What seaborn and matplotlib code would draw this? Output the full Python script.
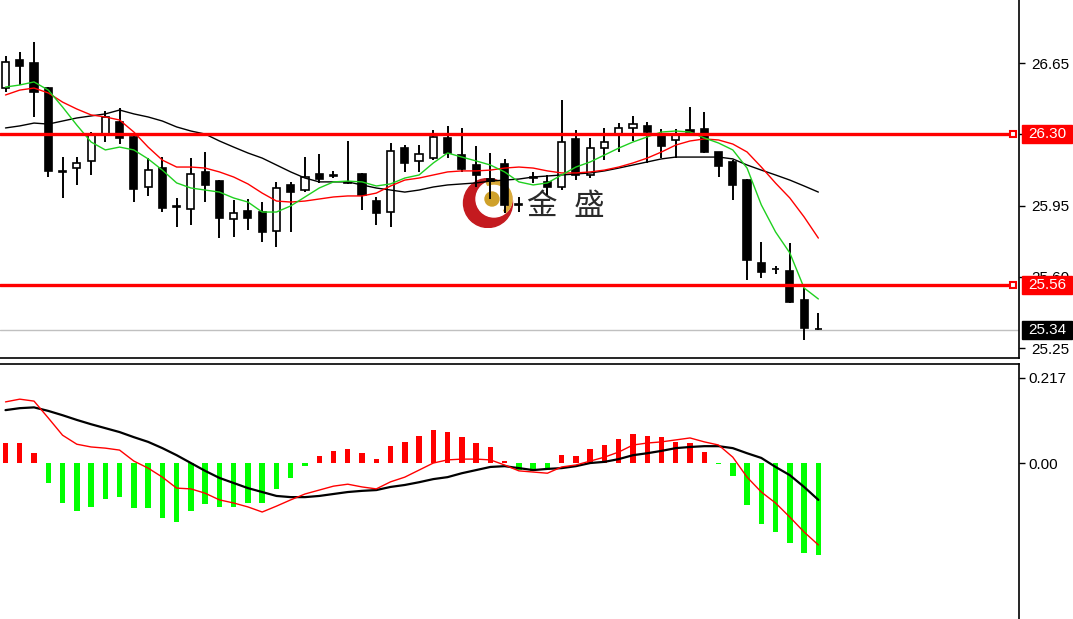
import numpy as np
import pandas as pd
import matplotlib
matplotlib.use("Agg")
import matplotlib.pyplot as plt
import matplotlib.transforms as mtransforms
from matplotlib.patches import Rectangle, Circle, Wedge
import seaborn as sns

# ---------------- data ----------------
open_ = [26.527, 26.665, 26.650, 26.527, 26.120, 26.134, 26.169, 26.300, 26.360, 26.286,
         26.040, 26.134, 25.947, 25.933, 26.115, 26.070, 25.884, 25.923, 25.918, 25.825,
         26.050, 26.026, 26.105, 26.100, 26.067, 26.105, 25.972, 25.918, 26.232, 26.169,
         26.183, 26.282, 26.198, 26.150, 26.080, 26.154, 25.955, 26.090, 26.066, 26.040,
         26.277, 26.100, 26.232, 26.301, 26.330, 26.340, 26.291, 26.272, 26.320, 26.326,
         26.213, 26.164, 26.075, 25.668, 25.640, 25.628, 25.486, 25.345]
high = [26.684, 26.704, 26.753, 26.530, 26.190, 26.190, 26.310, 26.414, 26.430, 26.296,
        26.183, 26.190, 25.987, 26.183, 26.213, 26.075, 25.977, 25.982, 25.967, 26.066,
        26.066, 26.190, 26.203, 26.120, 26.267, 26.110, 25.990, 26.257, 26.247, 26.247,
        26.320, 26.340, 26.330, 26.242, 26.210, 26.180, 25.990, 26.115, 26.100, 26.468,
        26.320, 26.282, 26.330, 26.355, 26.390, 26.360, 26.326, 26.326, 26.434, 26.410,
        26.215, 26.174, 26.080, 25.770, 25.653, 25.766, 25.545, 25.422]
low = [26.510, 26.540, 26.385, 26.090, 25.987, 26.050, 26.100, 26.262, 26.252, 25.967,
       25.997, 25.918, 25.845, 25.854, 25.967, 25.790, 25.795, 25.830, 25.770, 25.746,
       25.820, 26.016, 26.060, 26.085, 26.055, 25.928, 25.854, 25.845, 26.115, 26.115,
       26.174, 26.183, 26.115, 26.040, 25.980, 25.913, 25.920, 26.060, 26.000, 26.026,
       26.075, 26.085, 26.174, 26.213, 26.267, 26.159, 26.183, 26.183, 26.300, 26.210,
       26.090, 25.977, 25.584, 25.594, 25.614, 25.470, 25.290, 25.339]
close = [26.655, 26.635, 26.508, 26.120, 26.115, 26.159, 26.296, 26.385, 26.282, 26.030,
         26.124, 25.938, 25.942, 26.105, 26.050, 25.890, 25.913, 25.889, 25.820, 26.036,
         26.016, 26.090, 26.080, 26.095, 26.060, 26.002, 25.913, 26.218, 26.159, 26.203,
         26.286, 26.208, 26.130, 26.100, 26.070, 25.953, 25.952, 26.085, 26.040, 26.262,
         26.100, 26.232, 26.262, 26.330, 26.350, 26.310, 26.242, 26.296, 26.310, 26.213,
         26.144, 26.050, 25.683, 25.624, 25.638, 25.476, 25.348, 25.343]

ma_fast = [26.532, 26.542, 26.557, 26.517, 26.434, 26.345, 26.262, 26.223, 26.237, 26.223,
           26.179, 26.124, 26.061, 26.036, 26.026, 26.016, 25.987, 25.967, 25.918, 25.918,
           25.948, 25.992, 26.036, 26.066, 26.070, 26.066, 26.046, 26.056, 26.085, 26.100,
           26.159, 26.208, 26.188, 26.169, 26.149, 26.115, 26.066, 26.051, 26.061, 26.100,
           26.139, 26.164, 26.198, 26.232, 26.262, 26.287, 26.311, 26.316, 26.311, 26.282,
           26.257, 26.223, 26.134, 25.953, 25.820, 25.717, 25.545, 25.491]
ma_mid = [26.493, 26.517, 26.527, 26.503, 26.458, 26.424, 26.395, 26.385, 26.370, 26.311,
          26.237, 26.173, 26.139, 26.139, 26.134, 26.115, 26.090, 26.056, 26.011, 25.972,
          25.967, 25.972, 25.982, 25.992, 25.997, 25.997, 26.011, 26.046, 26.075, 26.085,
          26.100, 26.115, 26.120, 26.120, 26.124, 26.134, 26.139, 26.134, 26.120, 26.110,
          26.110, 26.115, 26.124, 26.139, 26.159, 26.183, 26.213, 26.247, 26.267, 26.277,
          26.272, 26.252, 26.213, 26.139, 26.060, 25.987, 25.894, 25.790]
ma_slow = [26.331, 26.341, 26.355, 26.350, 26.365, 26.380, 26.390, 26.400, 26.419, 26.400,
           26.385, 26.365, 26.336, 26.316, 26.301, 26.267, 26.237, 26.208, 26.183, 26.149,
           26.115, 26.085, 26.066, 26.066, 26.066, 26.051, 26.036, 26.026, 26.016, 26.026,
           26.041, 26.051, 26.056, 26.061, 26.070, 26.075, 26.080, 26.090, 26.095, 26.100,
           26.105, 26.110, 26.120, 26.134, 26.149, 26.164, 26.179, 26.188, 26.188, 26.188,
           26.188, 26.179, 26.149, 26.124, 26.100, 26.075, 26.046, 26.016]

macd_hist = [0.051, 0.051, 0.026, -0.051, -0.102, -0.122, -0.112, -0.092, -0.087, -0.115,
             -0.115, -0.140, -0.150, -0.122, -0.105, -0.112, -0.112, -0.102, -0.102, -0.066,
             -0.038, -0.008, 0.018, 0.031, 0.036, 0.026, 0.010, 0.043, 0.054, 0.070,
             0.084, 0.079, 0.066, 0.051, 0.041, 0.006, -0.018, -0.020, -0.018, 0.020,
             0.018, 0.036, 0.046, 0.061, 0.074, 0.069, 0.067, 0.054, 0.052, 0.028,
             -0.003, -0.033, -0.107, -0.156, -0.176, -0.204, -0.230, -0.235]
macd_red = [0.156, 0.163, 0.158, 0.115, 0.071, 0.048, 0.041, 0.038, 0.033, 0.005,
            -0.013, -0.036, -0.064, -0.066, -0.077, -0.094, -0.102, -0.112, -0.125, -0.110,
            -0.094, -0.079, -0.069, -0.059, -0.054, -0.061, -0.066, -0.048, -0.036, -0.018,
            0.000, 0.008, 0.010, 0.010, 0.008, -0.005, -0.020, -0.023, -0.026, -0.010,
            -0.005, 0.005, 0.015, 0.028, 0.046, 0.051, 0.054, 0.059, 0.064, 0.054,
            0.046, 0.015, -0.036, -0.074, -0.102, -0.138, -0.176, -0.209]
macd_black = [0.135, 0.140, 0.142, 0.133, 0.122, 0.110, 0.099, 0.089, 0.079, 0.066,
              0.054, 0.038, 0.020, 0.000, -0.020, -0.038, -0.051, -0.064, -0.074, -0.084,
              -0.087, -0.087, -0.084, -0.079, -0.074, -0.071, -0.069, -0.061, -0.056, -0.049,
              -0.041, -0.036, -0.026, -0.018, -0.010, -0.008, -0.013, -0.018, -0.015, -0.013,
              -0.008, 0.000, 0.003, 0.010, 0.020, 0.025, 0.031, 0.038, 0.041, 0.043,
              0.043, 0.038, 0.025, 0.013, -0.010, -0.031, -0.061, -0.094]

levels = [26.30, 25.56]
last_price = 25.34
price_ticks = [26.65, 26.30, 25.95, 25.60, 25.25]
price_tick_labels = ["26.65", "", "25.95", "25.60", "25.25"]
macd_ticks = [0.217, 0.0]
macd_tick_labels = ["0.217", "0.00"]
watermark = ["金", "盛"]

# ---------------- style ----------------
sns.set_style("white")
plt.rcParams['font.family'] = ['Liberation Sans', 'DejaVu Sans']

W, H = 1073, 619
fig = plt.figure(figsize=(W / 100, H / 100), dpi=100)
fig.patch.set_facecolor("white")

df = pd.DataFrame({"i": np.arange(len(close)), "open": open_, "high": high, "low": low,
                   "close": close, "ma_fast": ma_fast, "ma_mid": ma_mid, "ma_slow": ma_slow,
                   "hist": macd_hist, "macd_red": macd_red, "macd_black": macd_black})

# ---------------- watermark (behind the chart) ----------------
logo_ax = fig.add_axes([460 / W, 1 - 228 / H, 56 / W, 50 / H], zorder=0)
logo_ax.set_xlim(0, 56)
logo_ax.set_ylim(0, 50)
logo_ax.axis("off")
logo_ax.add_patch(Circle((28, 25), 24.5, color="#c41a1f"))
logo_ax.add_patch(Circle((34, 29), 18, color="white"))
logo_ax.add_patch(Wedge((34, 29), 18, -50, 115, width=3.0, color="#d9aa3a"))
logo_ax.add_patch(Circle((32, 29), 7, color="#cfa12a"))
for txt, cx in zip(watermark, [541, 589]):
    fig.text(cx / W, 1 - 206 / H, txt, fontsize=22, color="#2a2a2a", ha="center",
             va="center", family=["Noto Sans CJK SC", "DejaVu Sans"], zorder=1)

# ---------------- main price panel ----------------
ax = fig.add_axes([0, 1 - 358 / H, 1019 / W, 358 / H], zorder=2)
ax.set_facecolor("none")
ax.set_xlim(-0.386, 71.07)
ax.set_ylim(25.201, 26.9595)

# candles
ax.vlines(df["i"], df["low"], df["high"], color="black", lw=1.4, zorder=3)
body_lo = np.minimum(df["open"], df["close"])
body_h = np.maximum(np.abs(df["close"] - df["open"]), 0.001)
up = df["close"] >= df["open"]
ax.bar(df["i"], body_h, bottom=body_lo, width=0.5,
       color=np.where(up, "white", "black"), edgecolor="black", linewidth=1.2, zorder=4)

# moving averages
sns.lineplot(data=df, x="i", y="ma_slow", ax=ax, color="black", lw=1.0, zorder=5, legend=False)
sns.lineplot(data=df, x="i", y="ma_mid", ax=ax, color="#ff0000", lw=1.0, zorder=6, legend=False)
sns.lineplot(data=df, x="i", y="ma_fast", ax=ax, color="#1fd01f", lw=1.0, zorder=7, legend=False)

# horizontal levels
trans = mtransforms.blended_transform_factory(ax.transAxes, ax.transData)
ax.axhline(last_price, color="#c0c0c0", lw=1.0, zorder=2)
for lv in levels:
    ax.axhline(lv, xmin=0, xmax=0.994, color="#ff0000", lw=2.4, zorder=8)
    ax.plot([0.994], [lv], transform=trans, marker="s", ms=5, mfc="white", mec="#ff0000",
            mew=1.5, clip_on=False, zorder=9)

# axis styling
for s in ["left", "top"]:
    ax.spines[s].set_visible(False)
for s in ["right", "bottom"]:
    ax.spines[s].set_color("black")
    ax.spines[s].set_linewidth(1.2)
ax.set_xticks([])
ax.yaxis.tick_right()
ax.set_yticks(price_ticks)
ax.set_yticklabels(price_tick_labels)
ax.tick_params(axis="y", length=4, width=1, pad=5, labelsize=11, colors="black")
ax.set_xlabel("")
ax.set_ylabel("")

# price boxes on the right axis
box_h = 18 / 203.6
for lv, fc in [(levels[0], "#ff0000"), (levels[1], "#ff0000"), (last_price, "black")]:
    ax.add_patch(Rectangle((1022 / 1019, lv - box_h / 2), 50 / 1019, box_h, transform=trans,
                           facecolor=fc, edgecolor=fc, clip_on=False, zorder=10))
    ax.text(1047 / 1019, lv, f"{lv:.2f}", transform=trans, color="white", fontsize=11,
            ha="center", va="center", clip_on=False, zorder=11)

# ---------------- MACD panel ----------------
ax2 = fig.add_axes([0, 0, 1019 / W, (619 - 364) / H], zorder=2)
ax2.set_facecolor("none")
ax2.set_xlim(-0.386, 71.07)
ax2.set_ylim(-0.398, 0.2527)
hist = np.array(macd_hist)
ax2.bar(df["i"], hist, width=0.38, color=np.where(hist >= 0, "#ff0000", "#00ff00"),
        linewidth=0, zorder=3)
sns.lineplot(data=df, x="i", y="macd_black", ax=ax2, color="black", lw=1.6, zorder=4, legend=False)
sns.lineplot(data=df, x="i", y="macd_red", ax=ax2, color="#ff0000", lw=1.0, zorder=5, legend=False)

for s in ["left", "bottom"]:
    ax2.spines[s].set_visible(False)
for s in ["right", "top"]:
    ax2.spines[s].set_color("black")
    ax2.spines[s].set_linewidth(1.2)
ax2.set_xticks([])
ax2.yaxis.tick_right()
ax2.set_yticks(macd_ticks)
ax2.set_yticklabels(macd_tick_labels)
ax2.tick_params(axis="y", length=4, width=1, pad=3, labelsize=11, colors="black")
ax2.set_xlabel("")
ax2.set_ylabel("")

fig.savefig("out.png", dpi=100, facecolor="white")
